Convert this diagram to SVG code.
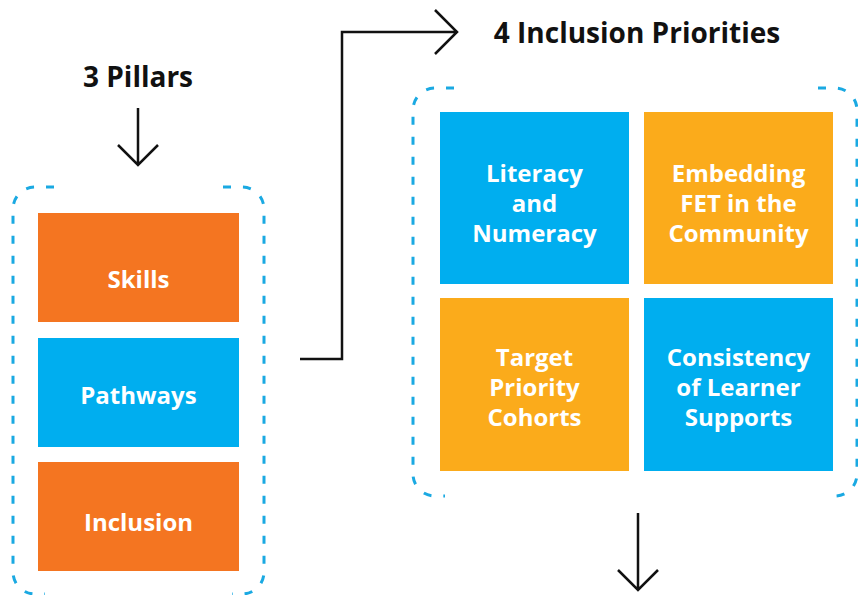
<svg xmlns="http://www.w3.org/2000/svg" width="858" height="595" viewBox="0 0 858 595">
  <style>
    .title { font-family: "Open Sans", "Liberation Sans", sans-serif; font-weight: 700; font-size: 28px; fill: #111111; text-anchor: middle; }
    .label { font-family: "Open Sans", "Liberation Sans", sans-serif; font-weight: 700; font-size: 24px; fill: #ffffff; text-anchor: middle; }
    .frame { fill: none; stroke: #1aa9e2; stroke-width: 3; stroke-dasharray: 8 12; }
    .orange { fill: #f47521; }
    .blue { fill: #00aeef; }
    .amber { fill: #fbab1b; }
    .wire { fill: none; stroke: #111111; stroke-width: 2.5; }
  </style>

  <!-- headings -->
  <text class="title" x="138" y="87">3 Pillars</text>
  <text class="title" x="637" y="43">4 Inclusion Priorities</text>

  <!-- dashed bracket frames -->
  <path class="frame" d="M54 187 H35 A22 22 0 0 0 13 209 V572 A22 22 0 0 0 35 594 H45"/>
  <path class="frame" d="M223 187 H242 A22 22 0 0 1 264 209 V572 A22 22 0 0 1 242 594 H232"/>
  <path class="frame" d="M454 88 H435 A22 22 0 0 0 413 110 V474 A22 22 0 0 0 435 496 H445"/>
  <path class="frame" d="M818 88 H835 A22 22 0 0 1 857 110 V474 A22 22 0 0 1 835 496 H827"/>

  <!-- pillars -->
  <g id="skills">
    <rect class="orange" x="38" y="213" width="201" height="109"/>
    <text class="label" x="138.5" y="288">Skills</text>
  </g>
  <g id="pathways">
    <rect class="blue" x="38" y="338" width="201" height="109"/>
    <text class="label" x="138.5" y="404">Pathways</text>
  </g>
  <g id="inclusion">
    <rect class="orange" x="38" y="462" width="201" height="109"/>
    <text class="label" x="138.5" y="531">Inclusion</text>
  </g>

  <!-- inclusion priorities -->
  <g id="literacy">
    <rect class="blue" x="440" y="112" width="189" height="172"/>
    <text class="label" x="534.5" y="182">Literacy</text>
    <text class="label" x="534.5" y="212">and</text>
    <text class="label" x="534.5" y="242">Numeracy</text>
  </g>
  <g id="embedding">
    <rect class="amber" x="644" y="112" width="189" height="172"/>
    <text class="label" x="738.5" y="182">Embedding</text>
    <text class="label" x="738.5" y="212">FET in the</text>
    <text class="label" x="738.5" y="242">Community</text>
  </g>
  <g id="target">
    <rect class="amber" x="440" y="298" width="189" height="173"/>
    <text class="label" x="534.5" y="366">Target</text>
    <text class="label" x="534.5" y="396">Priority</text>
    <text class="label" x="534.5" y="426">Cohorts</text>
  </g>
  <g id="consistency">
    <rect class="blue" x="644" y="298" width="189" height="173"/>
    <text class="label" x="738.5" y="366">Consistency</text>
    <text class="label" x="738.5" y="396">of Learner</text>
    <text class="label" x="738.5" y="426">Supports</text>
  </g>

  <!-- connectors -->
  <g id="connectors">
    <path class="wire" d="M138 108 V165 M118 145 L138 165 L158 145"/>
    <path class="wire" d="M300 359 H342 V32 H457 M435 10 L457 32 L435 54"/>
    <path class="wire" d="M638 513 V590 M618 570 L638 590 L658 570"/>
  </g>
</svg>
